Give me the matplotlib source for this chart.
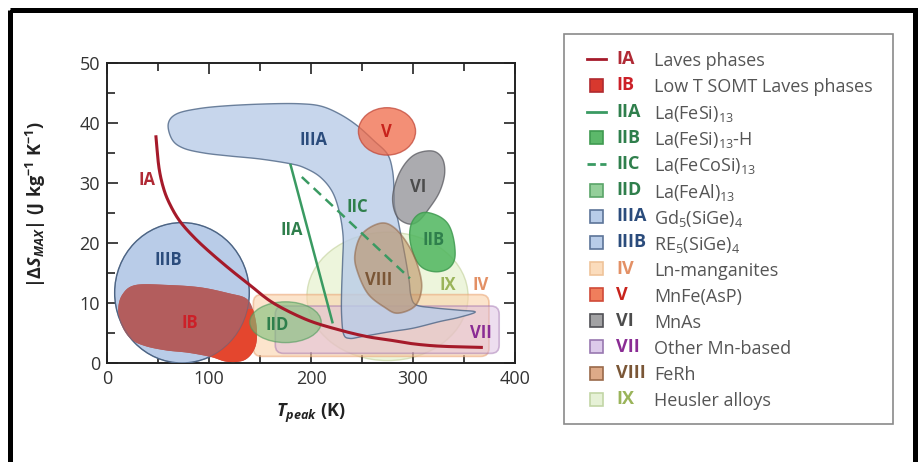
import numpy as np
import matplotlib
matplotlib.use("Agg")
import matplotlib.pyplot as plt
from matplotlib.patches import Ellipse, Polygon, FancyBboxPatch, Rectangle
from matplotlib.lines import Line2D
from matplotlib.transforms import Affine2D

plt.rcParams["font.family"] = ["Open Sans", "DejaVu Sans"]
plt.rcParams["mathtext.fontset"] = "custom"
plt.rcParams["mathtext.rm"] = "Open Sans"
plt.rcParams["mathtext.it"] = "Open Sans:italic"
plt.rcParams["mathtext.bf"] = "Open Sans:bold"
plt.rcParams["mathtext.bfit"] = "Open Sans:italic:bold"

# --- data (T in K, |dS| in J/kg/K) ---
ia_curve = [(48, 37.7), (51, 32.5), (56, 28.8), (63, 26.0), (72, 23.5), (85, 21.0),
            (100, 18.6), (120, 15.7), (140, 13.0), (163, 10.0), (196, 7.2), (228, 5.5),
            (255, 4.4), (278, 3.8), (300, 3.2), (327, 2.8), (367, 2.6)]
iia_line = [(180, 33.0), (221, 6.8)]
iic_line = [(191, 31.0), (297, 14.1)]

ib_outline = [(11, 8.8), (15, 11.4), (28, 13.0), (60, 13.0), (92, 12.6), (120, 11.6),
              (136, 10.8), (143, 9.0), (147, 5.5), (145, 2.5), (135, 0.5), (118, 0.2),
              (102, 1.0), (80, 1.7), (58, 2.1), (38, 2.8), (24, 3.9), (15, 6.0)]
iiia_outline = [(60, 39.8), (68, 41.5), (90, 42.4), (120, 42.9), (160, 43.2), (190, 43.2),
                (210, 42.8), (228, 41.5), (245, 39.6), (262, 37.0), (275, 34.8), (280, 32.0),
                (281.5, 28.5), (282, 26.0), (285, 24.0), (288, 21.5), (292, 18.0), (296, 14.0),
                (298, 11.2), (303, 9.7), (320, 9.2), (345, 8.8), (361, 8.5), (345, 7.6),
                (326, 6.9), (300, 5.8), (277, 5.2), (250, 4.4), (238, 4.1), (232, 4.8),
                (230, 8.0), (230, 12.0), (231, 17.0), (231.5, 21.0), (228, 25.0), (221, 28.5),
                (209, 31.0), (194, 32.5), (180, 33.2), (150, 34.0), (120, 34.5), (95, 35.0),
                (75, 35.8), (64, 37.2)]
iib_outline = [(313, 25.1), (326, 24.4), (335, 23.0), (340, 20.5), (341, 17.5), (335, 15.8),
               (323, 15.2), (310, 15.8), (302, 17.5), (297, 20.5), (298, 23.0), (304, 24.6)]
vi_outline = [(280, 27.5), (285, 31.0), (294, 33.6), (305, 35.0), (320, 35.3), (329, 34.0),
              (331, 31.5), (326, 28.5), (316, 25.8), (305, 23.6), (295, 23.2), (284, 24.5)]
viii_outline = [(268, 23.3), (282, 22.5), (296, 19.5), (305, 16.0), (308.5, 12.5), (302, 9.5),
                (285, 8.3), (272, 9.3), (256, 11.5), (246, 15.0), (243, 18.0), (250, 21.5)]

iiib_ellipse = (73.5, 11.7, 132, 23.4)   # centre T, centre dS, width, height
v_ellipse = (274.5, 38.6, 56, 7.9)
iid_ellipse = (175, 6.8, 70, 6.8)
ix_ellipse = (275, 11.1, 158, 21.4)
iv_box = (143.5, 1.1, 374.5, 11.4)       # T0, dS0, T1, dS1
vii_box = (165, 1.6, 384.5, 9.5)

codes = ["IA", "IB", "IIA", "IIB", "IIC", "IID", "IIIA", "IIIB",
         "IV", "V", "VI", "VII", "VIII", "IX"]
names = ["Laves phases", "Low T SOMT Laves phases", "La(FeSi)$_{13}$",
         "La(FeSi)$_{13}$-H", "La(FeCoSi)$_{13}$", "La(FeAl)$_{13}$",
         "Gd$_5$(SiGe)$_4$", "RE$_5$(SiGe)$_4$", "Ln-manganites", "MnFe(AsP)",
         "MnAs", "Other Mn-based", "FeRh", "Heusler alloys"]

# --- styling ---
code_colors = {"IA": "#b02a35", "IB": "#cc2028", "IIA": "#2f7f4c", "IIB": "#2f7f4c",
               "IIC": "#2f7f4c", "IID": "#2f7f4c", "IIIA": "#2b4c7c", "IIIB": "#2b4c7c",
               "IV": "#e39065", "V": "#c8231c", "VI": "#4c4c4c", "VII": "#8a2c94",
               "VIII": "#7a5636", "IX": "#9ab45a"}
line_red = "#a51a2a"
line_green = "#3a9a62"
blue_fill = "#b9cce8"
blue_edge = "#4d6585"


def spline_closed(pts, n=14):
    p = np.asarray(pts, float)
    m = len(p)
    t = np.linspace(0, 1, n, endpoint=False)[:, None]
    segs = []
    for i in range(m):
        p0, p1, p2, p3 = p[i - 1], p[i], p[(i + 1) % m], p[(i + 2) % m]
        segs.append(0.5 * (2 * p1 + (p2 - p0) * t + (2 * p0 - 5 * p1 + 4 * p2 - p3) * t ** 2
                           + (3 * p1 - p0 - 3 * p2 + p3) * t ** 3))
    return np.vstack(segs)


def spline_open(pts, n=14):
    p = np.asarray(pts, float)
    p = np.vstack([2 * p[0] - p[1], p, 2 * p[-1] - p[-2]])
    t = np.linspace(0, 1, n, endpoint=False)[:, None]
    segs = []
    for i in range(1, len(p) - 2):
        p0, p1, p2, p3 = p[i - 1], p[i], p[i + 1], p[i + 2]
        segs.append(0.5 * (2 * p1 + (p2 - p0) * t + (2 * p0 - 5 * p1 + 4 * p2 - p3) * t ** 2
                           + (3 * p1 - p0 - 3 * p2 + p3) * t ** 3))
    segs.append(p[-2][None, :])
    return np.vstack(segs)


def ellipse(spec, **kw):
    cx, cy, w, h = spec
    return Ellipse((cx, cy), w, h, **kw)


def rbox(spec, **kw):
    x0, y0, x1, y1 = spec
    return FancyBboxPatch((x0, y0), x1 - x0, y1 - y0,
                          boxstyle="round,pad=0,rounding_size=8", mutation_aspect=0.17, **kw)


fig = plt.figure(figsize=(9.22, 4.62), dpi=100)
px = Affine2D().scale(1 / 922, -1 / 462).translate(0, 1) + fig.transFigure

ax = fig.add_axes([107 / 922, 1 - 363 / 462, 408 / 922, 300 / 462])
ax.set_xlim(0, 400)
ax.set_ylim(0, 50)

ax.add_patch(ellipse(ix_ellipse, facecolor="#e2efc6", edgecolor="#c2d09a", alpha=0.6, lw=1, zorder=1))
ax.add_patch(rbox(iv_box, facecolor="#fbd2aa", edgecolor="#eaa87a", alpha=0.6, lw=1.2, zorder=2))
ax.add_patch(rbox(vii_box, facecolor="#d9b6dc", edgecolor="#9a6aaa", alpha=0.45, lw=1.2, zorder=3))

iiib = ellipse(iiib_ellipse, facecolor=blue_fill, edgecolor=blue_edge, lw=1, zorder=4)
ax.add_patch(iiib)
ib = spline_closed(ib_outline)
ib_brown = "#b35d5d"
ax.add_patch(Polygon(ib, closed=True, facecolor=ib_brown, edgecolor="none", zorder=5))
ib_red = Polygon(ib, closed=True, facecolor="#e4462e", edgecolor="none", zorder=5.05)
ax.add_patch(ib_red)
ib_red.set_clip_path(Rectangle((100, 0), 60, 9, transform=ax.transData))
ib_in = Polygon(ib, closed=True, facecolor=ib_brown, edgecolor="none", zorder=5.1)
ax.add_patch(ib_in)
ib_in.set_clip_path(iiib)
ax.add_patch(ellipse(iiib_ellipse, facecolor="none", edgecolor=blue_edge, lw=0.8, alpha=0.45, zorder=5.2))

ax.add_patch(ellipse(iid_ellipse, facecolor="#7cbf78", edgecolor="#4f9a5c", alpha=0.6, lw=1, zorder=6))
ax.add_patch(Polygon(spline_closed(iiia_outline), closed=True, facecolor=blue_fill,
                     edgecolor=blue_edge, alpha=0.8, lw=1, zorder=7))
ax.add_patch(ellipse(v_ellipse, facecolor="#f06a48", edgecolor="#c2493a", alpha=0.75, lw=1, zorder=8))
ax.add_patch(Polygon(spline_closed(vi_outline), closed=True, facecolor="#8f8f95",
                     edgecolor="#5a5a60", alpha=0.75, lw=1, zorder=9))
ax.add_patch(Polygon(spline_closed(iib_outline), closed=True, facecolor="#4fb65e",
                     edgecolor="#3f9a50", alpha=0.85, lw=1, zorder=10))
ax.add_patch(Polygon(spline_closed(viii_outline), closed=True, facecolor="#b98858",
                     edgecolor="#8d6040", alpha=0.55, lw=1.2, zorder=11))

ax.plot(*zip(*iia_line), color=line_green, lw=1.8, zorder=12)
ax.plot(*zip(*iic_line), color=line_green, lw=1.8, ls=(0, (4, 2.5)), zorder=12)
curve = spline_open(ia_curve)
ax.plot(curve[:, 0], curve[:, 1], color=line_red, lw=2.2, zorder=13)

label_kw = dict(fontsize=12, fontweight="bold", ha="center", va="center", zorder=14)
for code, (tx, ty) in {"IIIA": (202, 37.1), "IA": (39, 30.5), "IIA": (181, 22.2),
                       "IIC": (245, 26.0), "V": (274, 38.5), "VI": (305, 29.4),
                       "IIB": (320, 20.5), "IIIB": (60, 17.2), "VIII": (266, 13.9),
                       "IX": (334, 13.0), "IV": (366, 13.0), "IB": (81, 6.7),
                       "IID": (167, 6.4), "VII": (367, 5.0)}.items():
    ax.text(tx, ty, code, color=code_colors[code], **label_kw)

ax.set_xticks([0, 100, 200, 300, 400])
ax.set_xticks([50, 150, 250, 350], minor=True)
ax.set_yticks([0, 10, 20, 30, 40, 50])
ax.set_yticks([5, 15, 25, 35, 45], minor=True)
ax.tick_params(which="both", direction="in", top=True, right=True, width=1.2,
               colors="#222222", labelcolor="#333333", labelsize=13, pad=5)
ax.tick_params(which="major", length=8)
ax.tick_params(which="minor", length=6)
for s in ax.spines.values():
    s.set_linewidth(1.4)
    s.set_color("#222222")

ax.set_xlabel(r"$\mathbfit{T}_{\mathbfit{peak}}$ (K)", fontsize=13, fontweight="bold", color="#222222")
ax.xaxis.set_label_coords(0.5, -0.13)
ax.set_ylabel(r"$\mathbf{|\Delta}\mathbfit{S}_{\mathbfit{MAX}}\mathbf{|\ (J\ kg^{-1}\ K^{-1})}$",
              fontsize=13, color="#222222")
ax.yaxis.set_label_coords(-0.145, 0.53)

# legend panel
fig.patches.append(Rectangle((564, 34), 329, 390, transform=px, facecolor="none",
                             edgecolor="#8a8a8a", lw=1.2))
legend_sym = {"IA": ("line", line_red, "-"), "IB": ("box", "#d8382e", "#b02a30"),
              "IIA": ("line", line_green, "-"), "IIB": ("box", "#5cb86a", "#3f9a50"),
              "IIC": ("line", line_green, "--"), "IID": ("box", "#94cf9a", "#5aa468"),
              "IIIA": ("box", "#b8cce8", "#5c7498"), "IIIB": ("box", "#b8cce8", "#5c7498"),
              "IV": ("box", "#fbdcbc", "#efc39a"), "V": ("box", "#f07e5c", "#d04a38"),
              "VI": ("box", "#a2a2a4", "#505055"), "VII": ("box", "#dccaea", "#9878b0"),
              "VIII": ("box", "#ddaa88", "#9a6a4a"), "IX": ("box", "#e6f1d6", "#c2d6a6")}
for i, (code, name) in enumerate(zip(codes, names)):
    y = 59.3 + 26.15 * i
    kind, c1, c2 = legend_sym[code]
    if kind == "line":
        fig.lines.append(Line2D([587, 606], [y, y], transform=px, color=c1, lw=2,
                                ls=(0, (3, 1.6)) if c2 == "--" else "-"))
    else:
        fig.patches.append(Rectangle((590, y - 6.5), 13, 13, transform=px,
                                     facecolor=c1, edgecolor=c2, lw=1.2))
    fig.text(616, y, code, transform=px, fontsize=13, fontweight="bold",
             color=code_colors[code], va="center", ha="left")
    fig.text(654, y, name, transform=px, fontsize=13, color="#555555",
             va="center_baseline", ha="left")

# outer frame
fig.patches.append(Rectangle((10, 9.5), 905, 470, transform=px, facecolor="none",
                             edgecolor="black", lw=3.6))

fig.savefig("out.png", dpi=100)
